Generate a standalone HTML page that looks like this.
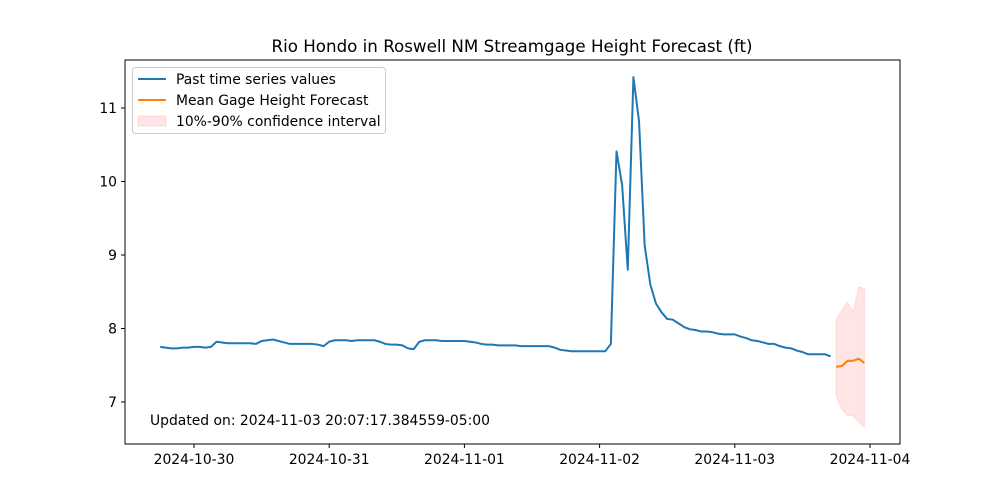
<!DOCTYPE html>
<html><head><meta charset="utf-8"><style>
body{margin:0;background:#fff;}
svg{display:block;font-family:"DejaVu Sans","Liberation Sans",sans-serif;}
</style></head><body>
<svg id="chart" width="1000" height="500">
<rect width="1000" height="500" fill="#fff"/>
<text x="512" y="52" text-anchor="middle" font-size="16.7">Rio Hondo in Roswell NM Streamgage Height Forecast (ft)</text>
<g id="plot"></g>
</svg>
<script>
const pastValues=[7.75,7.74,7.73,7.73,7.74,7.74,7.75,7.75,7.74,7.75,7.82,7.81,7.80,7.80,7.80,7.80,7.80,7.79,7.83,7.84,7.85,7.83,7.81,7.79,7.79,7.79,7.79,7.79,7.78,7.76,7.82,7.84,7.84,7.84,7.83,7.84,7.84,7.84,7.84,7.82,7.79,7.78,7.78,7.77,7.73,7.72,7.82,7.84,7.84,7.84,7.83,7.83,7.83,7.83,7.83,7.82,7.81,7.79,7.78,7.78,7.77,7.77,7.77,7.77,7.76,7.76,7.76,7.76,7.76,7.76,7.74,7.71,7.70,7.69,7.69,7.69,7.69,7.69,7.69,7.69,7.79,10.41,9.95,8.80,11.42,10.82,9.13,8.60,8.34,8.22,8.13,8.12,8.07,8.02,7.99,7.98,7.96,7.96,7.95,7.93,7.92,7.92,7.92,7.89,7.87,7.84,7.83,7.81,7.79,7.79,7.76,7.74,7.73,7.70,7.68,7.65,7.65,7.65,7.65,7.62];
const pastStartHour=-6;
const forecastMean=[7.48,7.49,7.56,7.56,7.59,7.53];
const forecastUpper=[8.12,8.25,8.36,8.22,8.57,8.54];
const forecastLower=[7.08,6.90,6.82,6.81,6.73,6.66];
const forecastStartHour=114;
const xTickLabels=["2024-10-30","2024-10-31","2024-11-01","2024-11-02","2024-11-03","2024-11-04"];
const yTickValues=[7,8,9,10,11];

const L=125,R=900,T=60,B=444;
const xS=h=>194+h*(135.2/24);
const yS=v=>402-(v-7)*73.5;
const NS="http://www.w3.org/2000/svg";
const g=document.getElementById('plot');
function mk(tag,attrs,parent){const e=document.createElementNS(NS,tag);for(const k in attrs)e.setAttribute(k,attrs[k]);(parent||g).appendChild(e);return e;}

let up=forecastUpper.map((v,i)=>xS(forecastStartHour+i)+','+yS(v));
let lo=forecastLower.map((v,i)=>xS(forecastStartHour+i)+','+yS(v)).reverse();
const band=mk('polygon',{points:up.concat(lo).join(' '),fill:'#ff0000','fill-opacity':0.1,stroke:'#ff0000','stroke-opacity':0.1});



const past=mk('polyline',{points:pastValues.map((v,i)=>xS(pastStartHour+i)+','+yS(v)).join(' '),fill:'none',stroke:'#1f77b4','stroke-width':2,'stroke-linejoin':'round'});


const fm=mk('polyline',{points:forecastMean.map((v,i)=>xS(forecastStartHour+i)+','+yS(v)).join(' '),fill:'none',stroke:'#ff7f0e','stroke-width':2,'stroke-linejoin':'round'});



const frame=mk('rect',{x:L,y:T,width:R-L,height:B-T,fill:'none',stroke:'#000','stroke-width':1});



xTickLabels.forEach((lab,i)=>{
  const x=xS(i*24);
  const t=mk('line',{x1:x,x2:x,y1:B,y2:B+4,stroke:'#000'});
  
  
  const tx=mk('text',{x:x,y:B+20,'text-anchor':'middle','font-size':13.9});
  tx.textContent=lab;
  
  
});
yTickValues.forEach(v=>{
  const y=yS(v);
  const t=mk('line',{x1:L-4,x2:L,y1:y,y2:y,stroke:'#000'});
  
  
  const tx=mk('text',{x:L-8,y:y+5,'text-anchor':'end','font-size':13.9});
  tx.textContent=v;
  
  
});

const upd=mk('text',{x:150,y:425,'font-size':13.9});
upd.textContent='Updated on: 2024-11-03 20:07:17.384559-05:00';



const lg=mk('g',{});


mk('rect',{x:132.5,y:67.5,width:253,height:66,rx:3,fill:'#fff','fill-opacity':0.8,stroke:'#ccc'},lg);
const entries=[['Past time series values','#1f77b4','line'],['Mean Gage Height Forecast','#ff7f0e','line'],['10%-90% confidence interval','#ff0000','patch']];
entries.forEach((e,i)=>{
  const y=79+i*21;
  const eg=mk('g',{},lg);
  
  
  if(e[2]==='line') mk('line',{x1:138,x2:166,y1:y,y2:y,stroke:e[1],'stroke-width':2},eg);
  else mk('rect',{x:138,y:y-5,width:28,height:10,fill:e[1],'fill-opacity':0.1,stroke:e[1],'stroke-opacity':0.1},eg);
  const t=mk('text',{x:176,y:y+5,'font-size':13.9},eg);
  t.textContent=e[0];
});
</script>
</body></html>
